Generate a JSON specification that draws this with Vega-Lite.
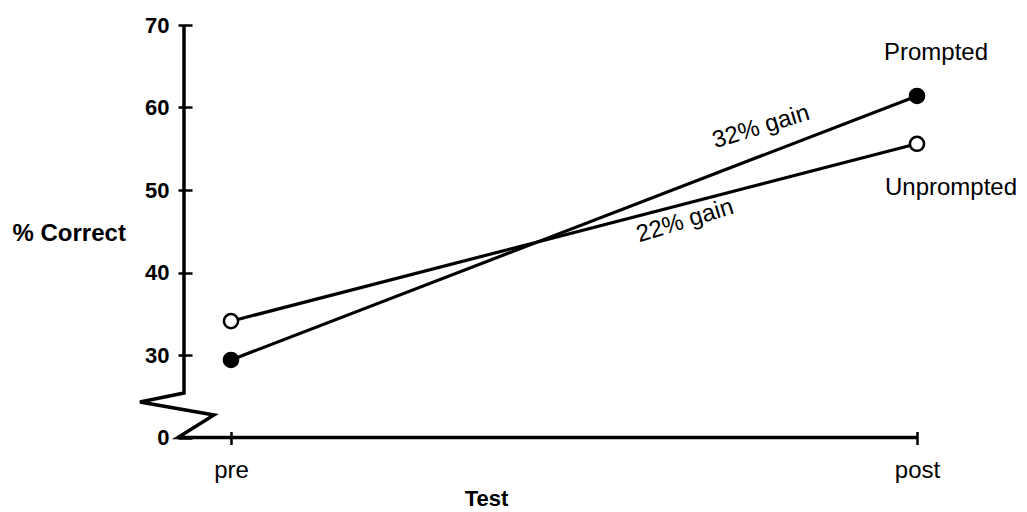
{
  "$schema": "https://vega.github.io/schema/vega-lite/v6.json",
  "width": 733,
  "height": 412.5,
  "autosize": {"type": "none"},
  "padding": {"left": 184, "top": 25, "right": 110, "bottom": 74.5},
  "background": "white",
  "config": {"view": {"stroke": null}, "font": "Liberation Sans"},
  "datasets": {
    "series": [
      {"series": "Prompted", "test": "pre", "x": 0, "y": 29.4},
      {"series": "Prompted", "test": "post", "x": 1, "y": 61.4},
      {"series": "Unprompted", "test": "pre", "x": 0, "y": 34.1},
      {"series": "Unprompted", "test": "post", "x": 1, "y": 55.6}
    ],
    "axisbreak": [
      {"i": 0, "x": -0.0685, "y": 70},
      {"i": 1, "x": -0.0685, "y": 25.39},
      {"i": 2, "x": -0.1327, "y": 24.3},
      {"i": 3, "x": -0.0248, "y": 22.73},
      {"i": 4, "x": -0.0773, "y": 20},
      {"i": 5, "x": 1, "y": 20}
    ],
    "labels": [
      {"text": "Prompted", "x": 1.0277, "y": 65.76},
      {"text": "Unprompted", "x": 1.0496, "y": 49.39}
    ],
    "gains": [
      {"text": "32% gain", "x": 0.7726, "y": 57.64},
      {"text": "22% gain", "x": 0.6618, "y": 46.24}
    ]
  },
  "layer": [
    {
      "data": {"name": "series"},
      "mark": {"type": "line", "color": "black", "strokeWidth": 3.2},
      "encoding": {
        "x": {
          "field": "x", "type": "quantitative",
          "scale": {"domain": [-0.0685, 1], "nice": false, "zero": false},
          "axis": {
            "values": [0, 1],
            "labelExpr": "datum.value == 0 ? 'pre' : 'post'",
            "domain": false, "grid": false,
            "tickSize": 13, "tickWidth": 2.5, "tickColor": "black",
            "offset": -6, "labelPadding": 14,
            "labelFont": "Liberation Sans", "labelFontSize": 24, "labelColor": "black",
            "labelFlush": false, "labelOverlap": false, "labelBound": false,
            "title": "Test", "titleFont": "Liberation Sans", "titleFontSize": 22,
            "titleFontWeight": "bold", "titleColor": "black",
            "titleX": 302, "titleY": 73.5, "titleBaseline": "alphabetic", "titleAlign": "center"
          }
        },
        "y": {
          "field": "y", "type": "quantitative",
          "scale": {"domain": [20, 70], "nice": false, "zero": false},
          "axis": {
            "values": [20, 30, 40, 50, 60, 70],
            "labelExpr": "datum.value == 20 ? '0' : datum.label",
            "domain": false, "grid": false,
            "tickSize": 14, "tickWidth": 2.5, "tickColor": "black",
            "offset": -8, "labelPadding": 9,
            "labelFont": "Liberation Sans", "labelFontSize": 22, "labelFontWeight": "bold",
            "labelColor": "black", "labelFlush": false, "labelOverlap": false, "labelBound": false,
            "title": "% Correct", "titleFont": "Liberation Sans", "titleFontSize": 24,
            "titleFontWeight": "bold", "titleColor": "black", "titleAngle": 0,
            "titleAlign": "left", "titleBaseline": "alphabetic", "titleX": -180, "titleY": 215
          }
        },
        "detail": {"field": "series", "type": "nominal"}
      }
    },
    {
      "data": {"name": "axisbreak"},
      "mark": {"type": "line", "color": "black", "strokeWidth": 3.5, "strokeJoin": "miter"},
      "encoding": {
        "x": {"field": "x", "type": "quantitative"},
        "y": {"field": "y", "type": "quantitative"},
        "order": {"field": "i", "type": "quantitative"}
      }
    },
    {
      "data": {"name": "series"},
      "mark": {"type": "point", "shape": "circle", "filled": true, "size": 200, "stroke": "black", "strokeWidth": 2.5, "opacity": 1},
      "encoding": {
        "x": {"field": "x", "type": "quantitative"},
        "y": {"field": "y", "type": "quantitative"},
        "fill": {"field": "series", "type": "nominal", "scale": {"domain": ["Prompted", "Unprompted"], "range": ["black", "white"]}, "legend": null}
      }
    },
    {
      "data": {"name": "labels"},
      "mark": {"type": "text", "font": "Liberation Sans", "fontSize": 24, "align": "center", "baseline": "alphabetic", "color": "black"},
      "encoding": {
        "x": {"field": "x", "type": "quantitative"},
        "y": {"field": "y", "type": "quantitative"},
        "text": {"field": "text"}
      }
    },
    {
      "data": {"name": "gains"},
      "mark": {"type": "text", "font": "Liberation Sans", "fontSize": 24, "align": "center", "baseline": "middle", "angle": -17, "color": "black"},
      "encoding": {
        "x": {"field": "x", "type": "quantitative"},
        "y": {"field": "y", "type": "quantitative"},
        "text": {"field": "text"}
      }
    }
  ]
}
